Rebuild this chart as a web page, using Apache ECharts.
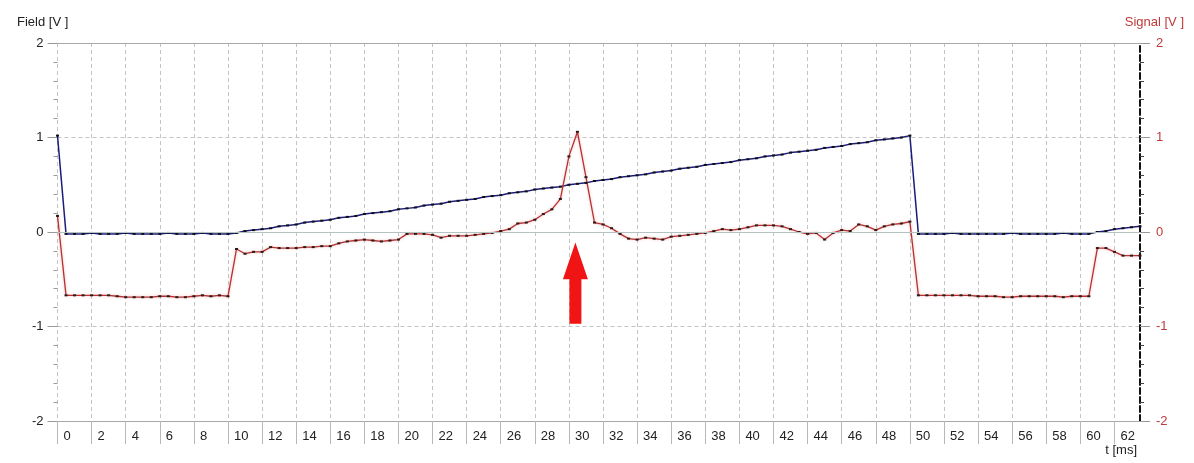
<!DOCTYPE html>
<html>
<head>
<meta charset="utf-8">
<script src="https://cdn.jsdelivr.net/npm/echarts@6/dist/echarts.min.js"></script>
<style>
  html, body { margin: 0; padding: 0; background: #fff; }
  #chart { width: 1194px; height: 463px; }
</style>
</head>
<body>
<div id="chart"></div>
<script>
// Sampling interval of the recorder, in ms
const sampleStep = 0.5;

// Field channel [V], one value per sample from t = 0 ms
const fieldV = [
  1.02, -0.02, -0.02, -0.02, -0.01, -0.02, -0.02, -0.02, -0.01, -0.02,
  -0.02, -0.02, -0.02, -0.01, -0.02, -0.02, -0.02, -0.01, -0.02, -0.02,
  -0.02, -0.01, 0.01, 0.02, 0.03, 0.04, 0.06, 0.07, 0.08, 0.10,
  0.11, 0.12, 0.13, 0.15, 0.16, 0.17, 0.19, 0.20, 0.21, 0.22,
  0.24, 0.25, 0.26, 0.28, 0.29, 0.30, 0.32, 0.33, 0.34, 0.35,
  0.37, 0.38, 0.39, 0.41, 0.42, 0.43, 0.45, 0.46, 0.47, 0.48,
  0.50, 0.51, 0.52, 0.54, 0.55, 0.56, 0.58, 0.59, 0.60, 0.61,
  0.63, 0.64, 0.65, 0.67, 0.68, 0.69, 0.71, 0.72, 0.73, 0.74,
  0.76, 0.77, 0.78, 0.80, 0.81, 0.82, 0.84, 0.85, 0.86, 0.87,
  0.89, 0.90, 0.91, 0.93, 0.94, 0.95, 0.97, 0.98, 0.99, 1.00,
  1.02, -0.02, -0.02, -0.02, -0.02, -0.01, -0.02, -0.02, -0.02, -0.02,
  -0.02, -0.02, -0.01, -0.02, -0.02, -0.02, -0.02, -0.02, -0.01, -0.02,
  -0.02, -0.02, 0.00, 0.01, 0.03, 0.04, 0.05, 0.06
];

// Signal channel [V], same sampling
const signalV = [
  0.17, -0.67, -0.67, -0.67, -0.67, -0.67, -0.67, -0.68, -0.69, -0.69,
  -0.69, -0.69, -0.68, -0.68, -0.69, -0.69, -0.68, -0.67, -0.68, -0.67,
  -0.68, -0.18, -0.23, -0.21, -0.21, -0.16, -0.17, -0.17, -0.17, -0.16,
  -0.16, -0.15, -0.15, -0.12, -0.10, -0.09, -0.08, -0.09, -0.10, -0.09,
  -0.08, -0.02, -0.02, -0.02, -0.03, -0.06, -0.04, -0.04, -0.04, -0.03,
  -0.02, -0.01, 0.01, 0.03, 0.09, 0.10, 0.13, 0.19, 0.24, 0.35,
  0.80, 1.06, 0.58, 0.10, 0.08, 0.04, -0.02, -0.07, -0.08, -0.06,
  -0.07, -0.08, -0.05, -0.04, -0.03, -0.02, -0.01, 0.01, 0.03, 0.02,
  0.03, 0.05, 0.07, 0.07, 0.07, 0.06, 0.03, 0.00, -0.02, -0.01,
  -0.08, -0.01, 0.02, 0.01, 0.08, 0.06, 0.02, 0.06, 0.08, 0.09,
  0.11, -0.67, -0.67, -0.67, -0.67, -0.67, -0.67, -0.67, -0.68, -0.68,
  -0.68, -0.69, -0.69, -0.68, -0.68, -0.68, -0.68, -0.68, -0.69, -0.68,
  -0.68, -0.68, -0.17, -0.17, -0.21, -0.25, -0.25, -0.25
];

// Time axis tick labels [ms]
const timeTicks = [0, 2, 4, 6, 8, 10, 12, 14, 16, 18, 20, 22, 24, 26, 28, 30,
  32, 34, 36, 38, 40, 42, 44, 46, 48, 50, 52, 54, 56, 58, 60, 62];
// Voltage tick labels, shared by both channels
const voltTicks = [-2, -1, 0, 1, 2];

// Marker arrow under the signal peak: [t, tip, head base, tail] in ms / V
const peakArrow = [30.38, -0.11, -0.50, -0.97];

const fieldData = fieldV.map((v, i) => [i * sampleStep, v]);
const signalData = signalV.map((v, i) => [i * sampleStep, v]);

const FONT = 'Liberation Sans, Arial, sans-serif';
const gridDash = { type: [4, 3], color: '#c4c4c4', width: 1 };

const chart = echarts.init(document.getElementById('chart'), null, { renderer: 'canvas' });

chart.setOption({
  animation: false,
  backgroundColor: '#ffffff',
  title: [
    { text: 'Field [V ]', left: 12, top: 11,
      textStyle: { fontFamily: FONT, fontSize: 13, fontWeight: 'normal', color: '#222' } },
    { text: 'Signal [V ]', right: 5, top: 11,
      textStyle: { fontFamily: FONT, fontSize: 13, fontWeight: 'normal', color: '#c03a3a' } },
    { text: 't [ms]', right: 52, top: 439,
      textStyle: { fontFamily: FONT, fontSize: 13, fontWeight: 'normal', color: '#222' } }
  ],
  grid: { left: 57.5, right: 54, top: 43, bottom: 42, containLabel: false },
  xAxis: {
    type: 'value',
    min: 0,
    max: 63.5,
    interval: 2,
    axisLine: { show: true, onZero: false, lineStyle: { color: '#a8a8a8', width: 1 } },
    axisTick: { show: true, length: 23, customValues: timeTicks, lineStyle: { color: '#b8b8b8' } },
    axisLabel: {
      customValues: timeTicks,
      align: 'left',
      padding: [0, 0, 0, 6],
      margin: 9,
      fontFamily: FONT,
      fontSize: 13,
      color: '#222'
    },
    splitLine: { show: true, lineStyle: gridDash }
  },
  yAxis: [
    {
      type: 'value', min: -2, max: 2, interval: 1, position: 'left',
      axisLine: { show: false },
      axisTick: { show: true, length: 10, lineStyle: { color: '#999' } },
      minorTick: { show: true, splitNumber: 5, length: 4, lineStyle: { color: '#999' } },
      axisLabel: {
        customValues: voltTicks, margin: 14, fontFamily: FONT, fontSize: 13, color: '#222'
      },
      splitLine: { show: true, lineStyle: gridDash }
    },
    {
      type: 'value', min: -2, max: 2, interval: 1, position: 'right',
      axisLine: { show: true, lineStyle: { color: '#111', width: 2, type: [6, 3] } },
      axisTick: { show: true, length: 10, lineStyle: { color: '#999' } },
      minorTick: { show: true, splitNumber: 5, length: 4, lineStyle: { color: '#444' } },
      axisLabel: {
        customValues: voltTicks, margin: 16, fontFamily: FONT, fontSize: 13, color: '#c03a3a'
      },
      splitLine: { show: false }
    }
  ],
  series: [
    {
      name: 'Field',
      type: 'line',
      yAxisIndex: 0,
      data: fieldData,
      symbol: 'rect',
      symbolSize: [3, 2],
      showSymbol: true,
      itemStyle: { color: '#111' },
      lineStyle: { color: '#1c1c7c', width: 1.5 },
      silent: true,
      markLine: {
        silent: true,
        symbol: 'none',
        label: { show: false },
        lineStyle: { type: 'solid', color: '#b4c2c2', width: 1 },
        data: [{ yAxis: 0 }, { yAxis: 2, lineStyle: { color: '#a8a8a8' } }]
      }
    },
    {
      name: 'Signal',
      type: 'line',
      yAxisIndex: 1,
      data: signalData,
      symbol: 'rect',
      symbolSize: [3, 2],
      showSymbol: true,
      itemStyle: { color: '#2a1a1a' },
      lineStyle: { color: '#b83030', width: 1.3, shadowColor: 'rgba(230,120,120,0.5)', shadowBlur: 3 },
      silent: true
    },
    {
      name: 'Peak marker',
      type: 'custom',
      yAxisIndex: 0,
      silent: true,
      data: [peakArrow],
      encode: { x: 0, y: 1 },
      renderItem: function (params, api) {
        const t = api.value(0);
        const tip = api.coord([t, api.value(1)]);
        const base = api.coord([t, api.value(2)]);
        const tail = api.coord([t, api.value(3)]);
        const x = tip[0];
        const head = 12.5, shaft = 6;
        return {
          type: 'polygon',
          shape: {
            points: [
              [x, tip[1]],
              [x + head, base[1]],
              [x + shaft, base[1]],
              [x + shaft, tail[1]],
              [x - shaft, tail[1]],
              [x - shaft, base[1]],
              [x - head, base[1]]
            ]
          },
          style: { fill: '#f01414' }
        };
      }
    }
  ]
});
</script>
</body>
</html>
